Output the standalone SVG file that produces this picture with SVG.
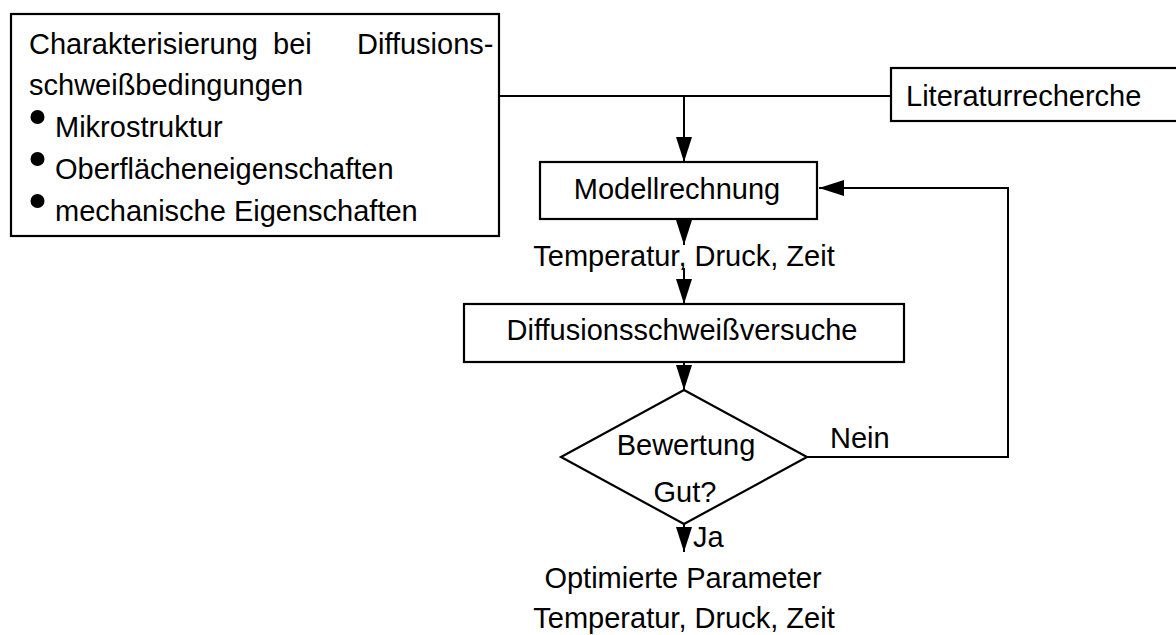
<svg xmlns="http://www.w3.org/2000/svg" width="1176" height="635" viewBox="0 0 1176 635">
<style>
.box{fill:#fff;stroke:#000;stroke-width:2.2}
.ln{fill:none;stroke:#000;stroke-width:2}
text{font-family:"Liberation Sans",Arial,sans-serif;font-size:29px;fill:#000}
.c{text-anchor:middle}
</style>
<defs>
<marker id="ah" markerUnits="userSpaceOnUse" markerWidth="26" markerHeight="16" viewBox="0 0 26 16" refX="25" refY="8" orient="auto">
<path d="M0,0 L25,8 L0,16 z" fill="#000"/>
</marker>
</defs>
<rect width="1176" height="635" fill="#fff"/>
<g id="connectors">
<line class="ln" x1="499" y1="96" x2="891" y2="96"/>
<line class="ln" x1="684" y1="96" x2="684" y2="162" marker-end="url(#ah)"/>
<line class="ln" x1="684" y1="219" x2="684" y2="245" marker-end="url(#ah)"/>
<line class="ln" x1="684" y1="268" x2="684" y2="304" marker-end="url(#ah)"/>
<line class="ln" x1="684" y1="362" x2="684" y2="390" marker-end="url(#ah)"/>
<polyline class="ln" points="807,457 1008,457 1008,188 819,188" marker-end="url(#ah)"/>
<line class="ln" x1="684" y1="524" x2="684" y2="552" marker-end="url(#ah)"/>
</g>
<g id="charakterisierung">
<rect class="box" x="11" y="14" width="488" height="222"/>
<text x="29" y="54">Charakterisierung</text>
<text x="273" y="54">bei</text>
<text x="357" y="54">Diffusions-</text>
<text x="29" y="95">schweißbedingungen</text>
<circle cx="37.5" cy="117" r="7"/>
<text x="55" y="137">Mikrostruktur</text>
<circle cx="37.5" cy="159" r="7"/>
<text x="55" y="179">Oberflächeneigenschaften</text>
<circle cx="37.5" cy="201" r="7"/>
<text x="55" y="221">mechanische Eigenschaften</text>
</g>
<g id="literaturrecherche">
<rect class="box" x="891" y="68" width="292" height="53"/>
<text x="906" y="106">Literaturrecherche</text>
</g>
<g id="modellrechnung">
<rect class="box" x="540" y="162" width="277" height="57"/>
<text class="c" x="677" y="199">Modellrechnung</text>
</g>
<text id="label-parameter" class="c" x="684" y="266">Temperatur, Druck, Zeit</text>
<g id="versuche">
<rect class="box" x="464" y="304" width="440" height="58"/>
<text class="c" x="682" y="340">Diffusionsschweißversuche</text>
</g>
<g id="bewertung">
<polygon class="box" points="684,390 807,457 684,524 561,457"/>
<text class="c" x="686" y="455">Bewertung</text>
<text class="c" x="685" y="502">Gut?</text>
</g>
<text id="label-nein" x="830" y="448">Nein</text>
<text id="label-ja" x="693" y="547">Ja</text>
<g id="ergebnis">
<text class="c" x="683" y="588">Optimierte Parameter</text>
<text class="c" x="684" y="628">Temperatur, Druck, Zeit</text>
</g>
</svg>
